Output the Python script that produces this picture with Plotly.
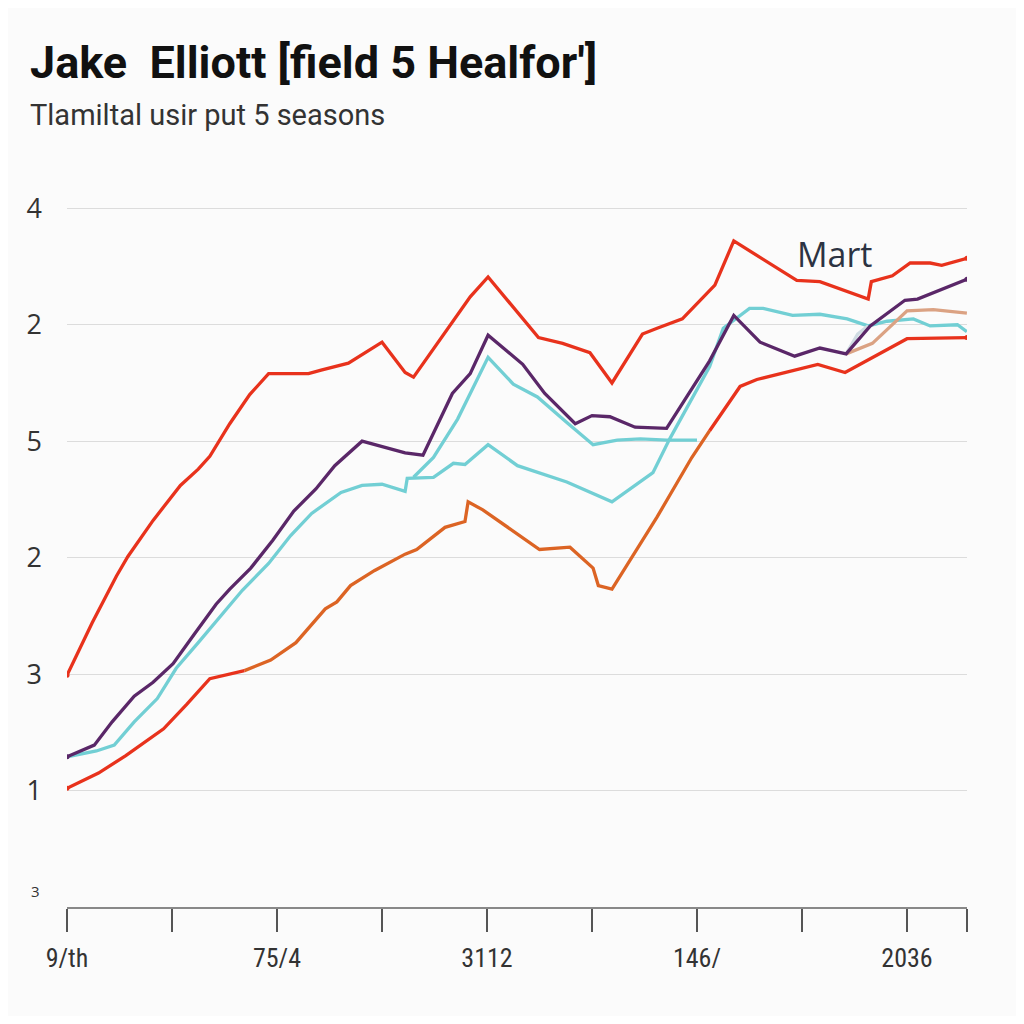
import plotly.graph_objects as go

# ---------------- data ----------------
top_x = [0, .24, .47, .58, .82, 1.08, 1.25, 1.36, 1.55, 1.74, 1.92, 2.30, 2.42, 2.68, 3.00, 3.22, 3.30,
         3.84, 4.01, 4.49, 4.72, 4.98, 5.19, 5.48, 5.62, 5.86, 6.17, 6.35, 6.95, 7.17, 7.63, 7.66,
         7.86, 8.03, 8.22, 8.33, 8.57]
top_y = [0.99, 1.44, 1.84, 2.01, 2.32, 2.62, 2.76, 2.87, 3.15, 3.40, 3.58, 3.58, 3.61, 3.67, 3.85, 3.59, 3.55,
         4.24, 4.41, 3.89, 3.84, 3.76, 3.50, 3.92, 3.97, 4.05, 4.34, 4.72, 4.38, 4.37, 4.22, 4.37,
         4.42, 4.53, 4.53, 4.51, 4.57]

purple_x = [0, .26, .43, .64, .82, 1.01, 1.21, 1.42, 1.55, 1.75, 1.96, 2.16, 2.37, 2.55, 2.81, 3.22, 3.39,
            3.67, 3.84, 4.01, 4.34, 4.55, 4.84, 5.00, 5.17, 5.41, 5.71, 6.12, 6.35, 6.60, 6.93, 7.17,
            7.42, 7.65, 7.98, 8.10, 8.57]
purple_y = [0.29, .39, .59, .81, .93, 1.09, 1.34, 1.60, 1.73, 1.91, 2.15, 2.40, 2.59, 2.79, 3.00, 2.90, 2.88,
            3.41, 3.58, 3.91, 3.66, 3.41, 3.15, 3.22, 3.21, 3.12, 3.11, 3.69, 4.08, 3.85, 3.73, 3.80,
            3.75, 3.99, 4.21, 4.22, 4.39]

cyan_x = [0, .28, .45, .64, .86, 1.04, 1.25, 1.45, 1.67, 1.92, 2.13, 2.33, 2.61, 2.81, 3.00, 3.22, 3.24,
          3.49, 3.68, 3.79, 4.01, 4.29, 4.76, 5.19, 5.58, 5.74, 6.12, 6.25, 6.50, 6.63, 6.91, 7.17,
          7.43, 7.63, 7.81, 8.06, 8.22, 8.48, 8.57]
cyan_y = [0.29, .34, .39, .59, .79, 1.05, 1.27, 1.48, 1.72, 1.95, 2.19, 2.38, 2.56, 2.62, 2.63, 2.57, 2.68,
          2.69, 2.81, 2.80, 2.97, 2.79, 2.65, 2.48, 2.73, 3.02, 3.64, 3.97, 4.14, 4.14, 4.08, 4.09,
          4.05, 3.99, 4.03, 4.05, 3.99, 4.00, 3.94]

cyan2_x = [3.30, 3.49, 3.72, 4.01, 4.25, 4.48, 4.76, 5.01, 5.24, 5.46, 5.71, 6.00]
cyan2_y = [2.69, 2.86, 3.19, 3.72, 3.49, 3.38, 3.16, 2.97, 3.01, 3.02, 3.01, 3.01]

low_x = [0, .30, .56, .92, 1.14, 1.36, 1.69, 1.94, 2.18, 2.33, 2.46, 2.57, 2.70, 2.93, 3.22, 3.33, 3.60,
         3.79, 3.82, 3.96, 4.50, 4.79, 5.01, 5.06, 5.19, 5.62, 5.95, 6.12, 6.41, 6.57, 7.15, 7.41,
         7.68, 8.00, 8.57]
low_y = [0.02, .15, .30, .53, .74, .96, 1.03, 1.12, 1.27, 1.42, 1.56, 1.62, 1.76, 1.89, 2.03, 2.07, 2.26,
         2.31, 2.48, 2.41, 2.07, 2.09, 1.91, 1.76, 1.73, 2.35, 2.86, 3.09, 3.47, 3.53, 3.66, 3.59,
         3.72, 3.88, 3.89]

tan_x = [7.42, 7.67, 8.00, 8.25, 8.57]
tan_y = [3.75, 3.84, 4.12, 4.13, 4.10]

pale_x = [7.42, 7.53, 7.63]
pale_y = [3.75, 3.92, 3.99]

y_tickvals = [0, 1, 2, 3, 4, 5]
y_ticktext = ["1", "3", "2", "5", "2", "4"]
x_tickvals = [0, 1, 2, 3, 4, 5, 6, 7, 8, 8.571]
x_ticktext = ["9/th", "", "75/4", "", "3112", "", "146/", "", "2036", ""]

RED = "#e8321c"
PURPLE = "#5a2768"
CYAN = "#72cfd4"
ORANGE = "#dc6424"
TAN = "#dba283"
PALE = "#cfdbe2"

fig = go.Figure()

def line(x, y, color, width=3.3):
    fig.add_trace(go.Scatter(x=x, y=y, mode="lines", line=dict(color=color, width=width),
                             hoverinfo="skip", showlegend=False))

# lower line: red start, orange middle, red end
split1, split2 = 6, 27
line(low_x[split1:split2 + 1], low_y[split1:split2 + 1], ORANGE)
line(low_x[:split1 + 1], low_y[:split1 + 1], RED)
line(low_x[split2:], low_y[split2:], RED)
line(cyan2_x, cyan2_y, CYAN)
line(cyan_x, cyan_y, CYAN)
line(pale_x, pale_y, PALE)
line(tan_x, tan_y, TAN)
line(purple_x, purple_y, PURPLE)
line(top_x, top_y, RED)

# end dots
for xs, ys, c in [(top_x, top_y, RED), (low_x, low_y, RED), (purple_x, purple_y, PURPLE)]:
    fig.add_trace(go.Scatter(x=[xs[0], xs[-1]], y=[ys[0], ys[-1]], mode="markers",
                             marker=dict(color=c, size=5), hoverinfo="skip", showlegend=False))

# page body has an 8px margin, so the figure is 1008 wide and offsets are 8px smaller
fig.update_layout(
    width=1008, height=1008,
    margin=dict(l=59, r=49, t=177, b=109),
    paper_bgcolor="#fbfbfb", plot_bgcolor="#fbfbfb",
    font=dict(family="Roboto, Open Sans, sans-serif", color="#333"),
    title=dict(text="<b>Jake  Elliott [field 5 Healfor′]</b>", xref="container", yref="container",
               x=22 / 1008, y=1 - 54 / 1008, xanchor="left", yanchor="middle",
               font=dict(family="Roboto, sans-serif", size=45, color="#111")),
    xaxis=dict(range=[0, 8.571], tickvals=x_tickvals, ticktext=x_ticktext, showgrid=False,
               zeroline=False, showline=True, linecolor="#888", linewidth=2,
               ticks="outside", ticklen=23, tickcolor="#555", tickwidth=1.5,
               tickfont=dict(size=26, color="#333", family="Roboto Condensed, Roboto, sans-serif"),
               ticklabelstandoff=4, fixedrange=True),
    yaxis=dict(range=[-1.0, 5.2], tickvals=y_tickvals, ticktext=y_ticktext, showgrid=True,
               gridcolor="#dcdcdc", gridwidth=1, zeroline=False, showline=False,
               tickfont=dict(size=27, color="#333", family="Open Sans, sans-serif"), ticklabelstandoff=24,
               fixedrange=True),
    annotations=[
        dict(text="Tlamiltal usir put 5 seasons", xref="paper", yref="paper",
             x=-39 / 900, y=(907 - 115) / 722, xanchor="left", yanchor="middle", showarrow=False,
             font=dict(size=29, color="#333", family="Roboto, sans-serif")),
        dict(text="Mart", xref="x", yref="y", x=7.31, y=4.61, showarrow=False,
             font=dict(size=34, color="#2c3342", family="Open Sans, sans-serif")),
        dict(text="3", xref="paper", yref="y", x=-38 / 900, y=-0.86, showarrow=False,
             font=dict(size=15, color="#333", family="Open Sans, sans-serif")),
    ],
)

fig.write_html("out.html")
